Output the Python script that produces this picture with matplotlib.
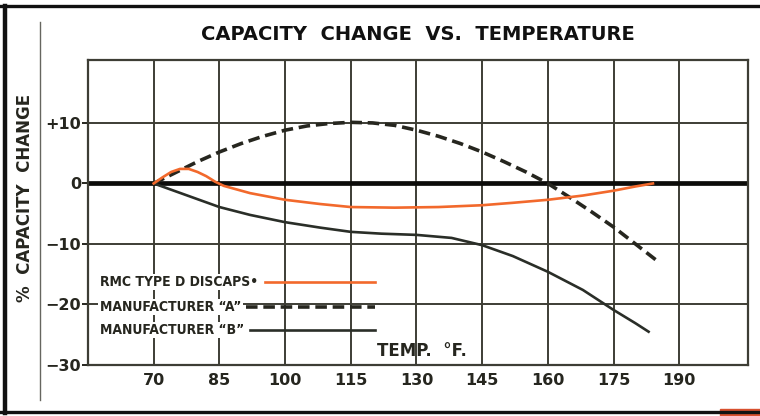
import matplotlib.pyplot as plt
import numpy as np
from matplotlib.patches import Rectangle

# temperature (deg F) / capacity change (%)
temp_rmc = [70, 72, 74, 76, 78, 80, 82, 84, 86, 92, 100, 108, 115, 125, 135, 145, 152, 160, 168, 175, 180, 184]
chg_rmc = [0, 1.0, 1.9, 2.4, 2.4, 1.9, 1.2, 0.3, -0.4, -1.6, -2.7, -3.4, -3.9, -4.0, -3.9, -3.6, -3.2, -2.7, -2.0, -1.2, -0.5, 0]

temp_a = [70, 75, 80, 85, 90, 95, 100, 105, 110, 115, 120, 125, 130, 135, 140, 145, 150, 155, 160, 165, 170, 175, 180, 185.5]
chg_a = [0, 1.8, 3.6, 5.2, 6.6, 7.8, 8.8, 9.5, 9.9, 10.1, 10.0, 9.6, 8.8, 7.8, 6.6, 5.2, 3.6, 1.9, 0, -2.3, -4.7, -7.2, -10.0, -13.1]

temp_b = [70, 75, 80, 85, 92, 100, 108, 115, 122, 130, 138, 145, 152, 160, 168, 175, 180, 183]
chg_b = [0, -1.3, -2.6, -3.9, -5.2, -6.4, -7.3, -8.0, -8.3, -8.5, -9.0, -10.2, -12.0, -14.6, -17.6, -20.9, -23.1, -24.5]

x_ticks = [70, 85, 100, 115, 130, 145, 160, 175, 190]
y_ticks = [-30, -20, -10, 0, 10]
y_labels = ["\u221230", "\u221220", "\u221210", "0", "+10"]

series_names = ["RMC TYPE D DISCAPS\u2022", "MANUFACTURER \u201cA\u201d", "MANUFACTURER \u201cB\u201d"]

ink = "#26261f"
grid_c = "#3d3d35"
orange = "#f2692c"

fig = plt.figure(figsize=(7.6, 4.16), dpi=100)
ax = fig.add_axes([0.1158, 0.1226, 0.8684, 0.7332])

ax.set_xlim(55, 205.7)
ax.set_ylim(-30, 20.4)
ax.set_xticks(x_ticks)
ax.set_xticklabels([str(t) for t in x_ticks])
ax.set_yticks(y_ticks)
ax.set_yticklabels(y_labels)
ax.grid(True, color=grid_c, linewidth=1.4, zorder=1)
for s in ax.spines.values():
    s.set_color(grid_c)
    s.set_linewidth(1.6)
ax.tick_params(axis="x", length=0, pad=6, labelsize=11.5, colors=ink)
ax.tick_params(axis="y", length=4, width=1.4, pad=1, labelsize=11.5, colors=ink)
for lab in ax.get_xticklabels() + ax.get_yticklabels():
    lab.set_fontweight("bold")

ax.axhline(0, color="#0c0c0a", linewidth=3.4, zorder=2)

ax.plot(temp_a, chg_a, color=ink, linewidth=2.6, dashes=(3.2, 1.6), zorder=3)
ax.plot(temp_b, chg_b, color="#2a2e28", linewidth=1.9, zorder=4)
ax.plot(temp_rmc, chg_rmc, color=orange, linewidth=1.9, zorder=5)

# hand-drawn key in the lower left of the grid
key_font = dict(family="DejaVu Sans", fontstretch="condensed", fontsize=10,
                fontweight="bold", color=ink)
key_rows = [0.272, 0.190, 0.115]
for name, yk in zip(series_names, key_rows):
    ax.text(0.018, yk, name, transform=ax.transAxes, va="center", ha="left", zorder=6,
            bbox=dict(facecolor="white", edgecolor="none", pad=1.0), **key_font)
ax.plot([0.268, 0.435], [key_rows[0]] * 2, transform=ax.transAxes, color=orange, linewidth=1.9, zorder=5)
ax.plot([0.240, 0.435], [key_rows[1]] * 2, transform=ax.transAxes, color=ink, linewidth=2.6, dashes=(3.2, 1.6), zorder=5)
ax.plot([0.245, 0.435], [key_rows[2]] * 2, transform=ax.transAxes, color="#2a2e28", linewidth=1.9, zorder=5)

ax.text(0.438, 0.045, "TEMP.  \u00b0F.", transform=ax.transAxes, ha="left", va="center",
        fontsize=12, fontweight="bold", color=ink, zorder=6)

fig.text(0.55, 0.916, "CAPACITY  CHANGE  VS.  TEMPERATURE", ha="center", va="center",
         fontsize=14, fontweight="bold", color="#111111")
fig.text(0.033, 0.524, "%  CAPACITY  CHANGE", rotation=90, ha="center", va="center",
         fontsize=12, fontweight="bold", color=ink)

# page frame and the thin rule beside the axis title
fig.add_artist(plt.Line2D([0.0, 1.0], [0.9856, 0.9856], color="#111111", linewidth=2.4))
fig.add_artist(plt.Line2D([0.0066, 0.0066], [0.008, 0.9856], color="#111111", linewidth=3.2))
fig.add_artist(plt.Line2D([0.0, 1.0], [0.0096, 0.0096], color="#111111", linewidth=2.4))
fig.add_artist(plt.Line2D([0.0526, 0.0526], [0.038, 0.947], color="#666660", linewidth=1.0))
fig.add_artist(Rectangle((0.948, 0.0), 0.052, 0.016, transform=fig.transFigure, color="#d8502e"))

fig.savefig("out.png", dpi=100)
